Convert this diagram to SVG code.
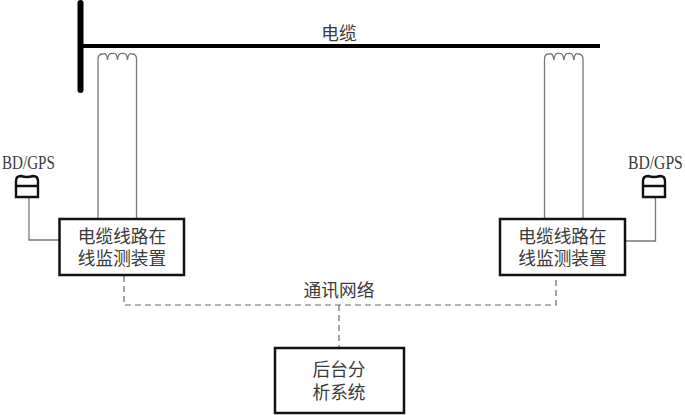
<svg xmlns="http://www.w3.org/2000/svg" width="685" height="415" viewBox="0 0 685 415">
<style>
.t{font-family:"Noto Sans CJK SC","Noto Sans CJK JP",sans-serif;font-size:17.7px;fill:#3a3a3a;text-anchor:middle}
.g{font-family:"Liberation Serif",serif;font-size:18px;fill:#3a3a3a}
.box{fill:#fff;stroke:#111;stroke-width:2.5}
.w{fill:none;stroke:#777;stroke-width:1.3}
.d{fill:none;stroke:#666;stroke-width:1.2;stroke-dasharray:6 4}
.ant{fill:#fff;stroke:#111;stroke-width:2.4}
</style>
<rect width="685" height="415" fill="#fff"/>
<g id="connectors">
<path class="w" d="M98 219V59Q98 54 103 54C106 53 107 55 107.500 60C108 54 110 53 113 53.500C116 53 117 55 117.500 60C118 54 120 53 123 53.500C126 53 127 55 127.500 60C128 54 130 53 132 54Q136.500 54 136.500 59V219"/>
<path class="w" d="M544.500 219V59Q544.500 54 549 54C552 53 553 55 554 60C554.500 54 556 53 559 53.500C562 53 563 55 564 60C564.500 54 566 53 569 53.500C572 53 573 55 574 60C574.500 54 576 53 578 54Q583 54 583 59V219"/>
<path class="w" d="M29 197V240H59"/>
<path class="w" d="M655.500 197V241H625"/>
<path class="d" d="M124 276V305H556V276"/>
<path class="d" d="M339 305V347"/>
</g>
<g id="bus">
<line x1="80.500" y1="3" x2="80.500" y2="90" stroke="#000" stroke-width="6" stroke-linecap="round"/>
<line x1="80" y1="46" x2="600" y2="46" stroke="#000" stroke-width="4"/>
</g>
<g id="cable-label"><text class="t" x="339" y="40">电缆</text></g>
<g id="network-label"><text class="t" x="339" y="297">通讯网络</text></g>
<g id="gps-left">
<path class="ant" d="M16 186V181Q16 176 21 176Q27 178 33 176Q38 176 38 181V186V197H16ZM16 186H38"/>
<text class="g" transform="translate(2 169) scale(.84 1)">BD/GPS</text>
</g>
<g id="gps-right">
<path class="ant" d="M643 186V181Q643 176 648 176Q654 178 660 176Q665 176 665 181V186V197H643ZM643 186H665"/>
<text class="g" transform="translate(628 169) scale(.87 1)">BD/GPS</text>
</g>
<g id="device-left">
<rect class="box" x="59.500" y="219" width="124.500" height="56"/>
<text class="t" x="122" y="243">电缆线路在</text>
<text class="t" x="122" y="265">线监测装置</text>
</g>
<g id="device-right">
<rect class="box" x="500" y="219" width="125" height="56"/>
<text class="t" x="562.500" y="243">电缆线路在</text>
<text class="t" x="562.500" y="265">线监测装置</text>
</g>
<g id="backend">
<rect class="box" x="275" y="348" width="129" height="65"/>
<text class="t" x="339" y="376">后台分</text>
<text class="t" x="339" y="399">析系统</text>
</g>
</svg>
